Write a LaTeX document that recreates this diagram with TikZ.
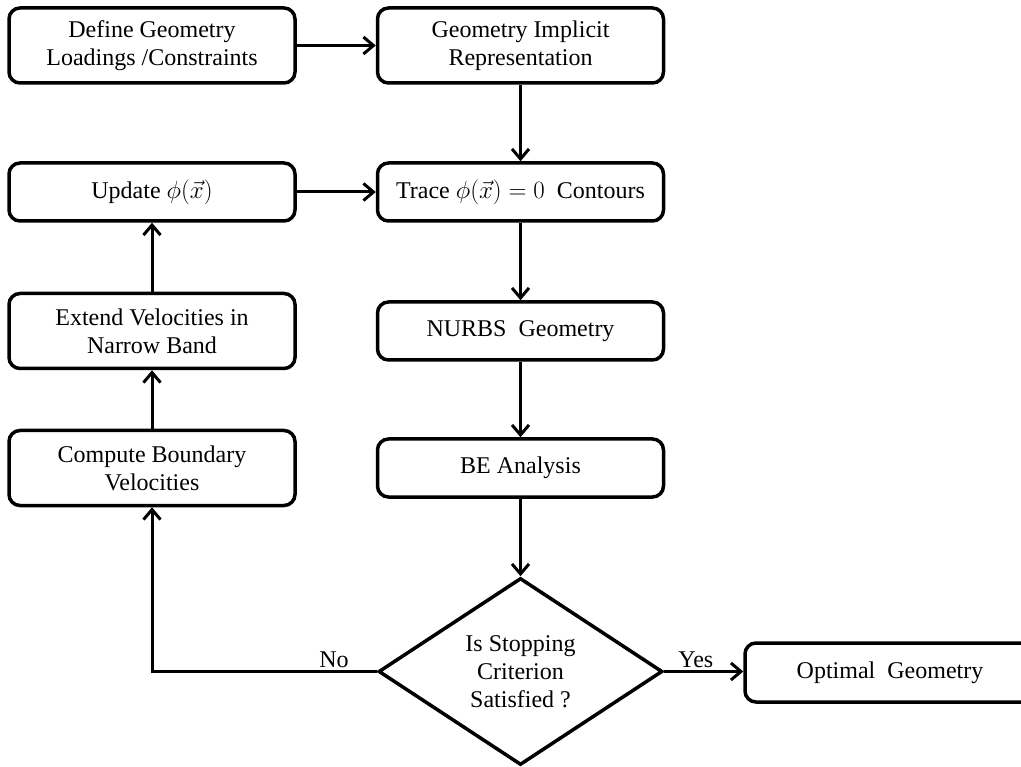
\documentclass[tikz,border=0pt]{standalone}
\usepackage{fontspec}
\setmainfont{Liberation Serif}
\usetikzlibrary{arrows.meta,shapes.geometric}
\begin{document}
\begin{tikzpicture}[x=1pt,y=-1pt,
  box/.style={draw,line width=3.5pt,rounded corners=11pt,minimum width=286pt,
    minimum height=58pt,inner sep=0pt,align=center,font=\fontsize{24}{28}\selectfont},
  tall/.style={box,minimum height=75pt},
  decision/.style={draw,diamond,line width=3.5pt,shape aspect=1.5,minimum width=284pt,
    minimum height=187pt,inner sep=0pt,align=center,font=\fontsize{24}{28}\selectfont},
  arr/.style={line width=3pt,-{Straight Barb[length=10pt,width=17pt]}},
  lbl/.style={font=\fontsize{24}{28}\selectfont,inner sep=2pt}
]
\useasboundingbox (0,0) rectangle (1021,767);
\node[tall] (A) at (152,45.5) {Define Geometry\\Loadings /Constraints};
\node[tall] (B) at (520.5,45.5) {Geometry Implicit\\Representation};
\node[box] (U) at (152,192) {Update $\phi(\vec{x})$};
\node[box] (T) at (520.5,192) {Trace $\phi(\vec{x})=0$\ \ Contours};
\node[tall] (E) at (152,331) {Extend Velocities in\\Narrow Band};
\node[box] (N) at (520.5,331) {NURBS\ \ Geometry};
\node[tall] (C) at (152,468) {Compute Boundary\\Velocities};
\node[box] (BE) at (520.5,468) {BE Analysis};
\node[decision] (D) at (520.5,671.5) {Is Stopping\\Criterion\\Satisfied ?};
\node[box,minimum width=290pt,minimum height=59pt] (O) at (890,672.5) {Optimal\ \ Geometry};
\coordinate (K) at (C.south |- D.west);
\draw[arr] (A) -- (B);
\draw[arr] (B) -- (T);
\draw[arr] (U) -- (T);
\draw[arr] (T) -- (N);
\draw[arr] (N) -- (BE);
\draw[arr] (BE) -- (D);
\draw[arr] (D.east) -- node[lbl,above,pos=0.4]{Yes} (D.east -| O.west);
\draw[arr] (D.west) -- node[lbl,above,pos=0.19]{No} (K) -- (C.south);
\draw[arr] (C) -- (E);
\draw[arr] (E) -- (U);
\end{tikzpicture}
\end{document}
